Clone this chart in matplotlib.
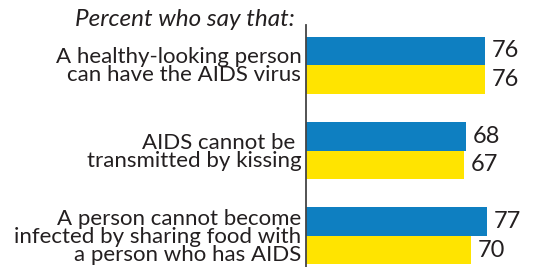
import matplotlib
matplotlib.use("Agg")
import matplotlib.pyplot as plt
import numpy as np

categories = [
    "A healthy-looking person\ncan have the AIDS virus",
    "AIDS cannot be \ntransmitted by kissing",
    "A person cannot become\ninfected by sharing food with\na person who has AIDS",
]
blue_vals = [76, 68, 77]
yellow_vals = [76, 67, 70]
title = "Percent who say that:"

BLUE = "#0e7fc1"
YELLOW = "#ffe400"
TEXT = "#231f20"

fig = plt.figure(figsize=(5.37, 2.67), dpi=100)
W, H = 537, 267
ax = fig.add_axes([305.5 / W, 0, (W - 305.5) / W, (H - 25) / H])

y = np.arange(len(categories))
h = 0.335
ax.barh(y - h / 2, blue_vals, height=h, color=BLUE)
ax.barh(y + h / 2, yellow_vals, height=h, color=YELLOW)

ax.set_xlim(0, (W - 305.5) / 2.36)
ax.set_ylim(2 + 31 / 85, -40 / 85)

for yi, b, yl in zip(y, blue_vals, yellow_vals):
    ax.annotate(str(b), (b, yi - h / 2), xytext=(5, 0), textcoords="offset points",
                va="center", ha="left", fontsize=17, color=TEXT, family="Lato")
    ax.annotate(str(yl), (yl, yi + h / 2), xytext=(5, 0), textcoords="offset points",
                va="center", ha="left", fontsize=17, color=TEXT, family="Lato")

ax.set_yticks(y)
ax.set_yticklabels(categories, fontsize=16, color=TEXT, family="Lato",
                   linespacing=0.88)
ax.tick_params(axis="y", length=0, pad=3)
ax.set_xticks([])
for s in ["top", "right", "bottom"]:
    ax.spines[s].set_visible(False)
ax.spines["left"].set_color("#444444")
ax.spines["left"].set_linewidth(1.3)

fig.text(295 / W, 1 - 19 / H, title, ha="right", va="center", fontsize=17.5,
         style="italic", color=TEXT, family="Lato")

fig.savefig("out.png", dpi=100)
